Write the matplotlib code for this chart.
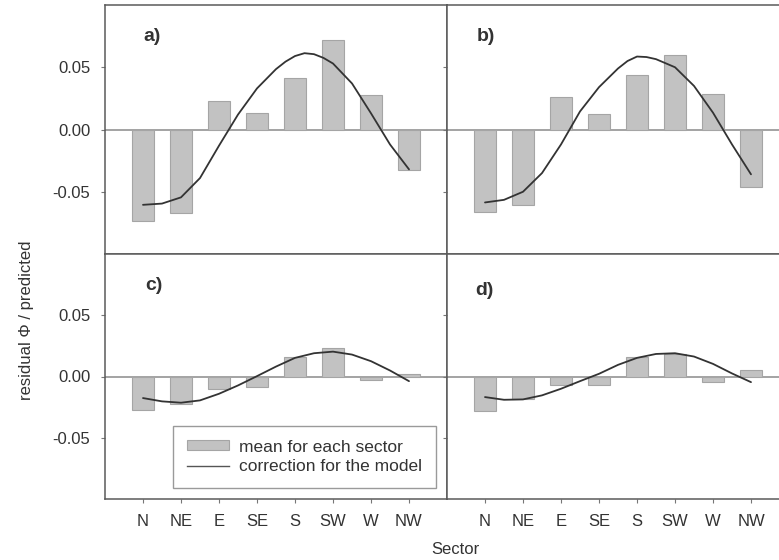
import matplotlib
matplotlib.use("Agg")
import matplotlib.pyplot as plt
from matplotlib.patches import Patch
from matplotlib.lines import Line2D

plt.rcParams['font.family'] = ['Liberation Sans', 'DejaVu Sans']

sectors = ["N", "NE", "E", "SE", "S", "SW", "W", "NW"]

bars_a = [-0.0731, -0.0672, 0.0228, 0.0134, 0.0411, 0.0720, 0.0280, -0.0322]
bars_b = [-0.0662, -0.0608, 0.0265, 0.0127, 0.0435, 0.0602, 0.0284, -0.0465]
bars_c = [-0.0272, -0.0223, -0.0100, -0.0087, 0.0160, 0.0234, -0.0027, 0.0022]
bars_d = [-0.0283, -0.0185, -0.0066, -0.0073, 0.0163, 0.0182, -0.0041, 0.0049]

curve_x_a = [0, 0.5, 1, 1.5, 2, 2.5, 3, 3.5, 3.75, 4, 4.25, 4.5, 4.75, 5, 5.5, 6, 6.5, 7]
curve_y_a = [-0.0605, -0.0595, -0.0545, -0.0390, -0.0130, 0.0120, 0.0330, 0.0485,
             0.0545, 0.0590, 0.0613, 0.0605, 0.0575, 0.0530, 0.0370, 0.0130, -0.0120, -0.0320]

curve_x_b = [0, 0.5, 1, 1.5, 2, 2.5, 3, 3.5, 3.75, 4, 4.25, 4.5, 5, 5.5, 6, 6.5, 7]
curve_y_b = [-0.0586, -0.0565, -0.0500, -0.0350, -0.0120, 0.0145, 0.0340, 0.0490,
             0.0550, 0.0586, 0.0582, 0.0565, 0.0500, 0.0350, 0.0135, -0.0120, -0.0360]

curve_x_c = [0, 0.5, 1, 1.5, 2, 2.5, 3, 3.5, 4, 4.5, 5, 5.5, 6, 6.5, 7]
curve_y_c = [-0.0176, -0.0203, -0.0214, -0.0195, -0.0141, -0.0073, 0.0003, 0.0081,
             0.0152, 0.0190, 0.0203, 0.0179, 0.0125, 0.0049, -0.0038]

curve_x_d = [0, 0.5, 1, 1.5, 2, 2.5, 3, 3.5, 4, 4.5, 5, 5.5, 6, 6.5, 7]
curve_y_d = [-0.0168, -0.0190, -0.0187, -0.0154, -0.0100, -0.0038, 0.0022, 0.0095,
             0.0152, 0.0184, 0.0190, 0.0163, 0.0103, 0.0025, -0.0046]

y_ticks = [-0.05, 0.0, 0.05]
y_tick_labels = ["-0.05", "0.00", "0.05"]
panel_labels = ["a)", "b)", "c)", "d)"]
legend_labels = ["mean for each sector", "correction for the model"]

W, H = 779, 560
fig = plt.figure(figsize=(W / 100, H / 100), dpi=100)

def frac(left, top, right, bottom):
    return [left / W, (H - bottom) / H, (right - left) / W, (bottom - top) / H]

boxes = [frac(105, 5, 447, 254), frac(447, 5, 789, 254),
         frac(105, 254, 447, 499), frac(447, 254, 789, 499)]
bars_all = [bars_a, bars_b, bars_c, bars_d]
curves = [(curve_x_a, curve_y_a), (curve_x_b, curve_y_b),
          (curve_x_c, curve_y_c), (curve_x_d, curve_y_d)]
label_pos = [(0.112, 0.873), (0.087, 0.873), (0.117, 0.873), (0.082, 0.850)]

bar_face = "#c2c2c2"
bar_edge = "#a5a5a5"
spine_col = "#5a5a5a"
text_col = "#333333"
x = list(range(len(sectors)))

axes = []
for i in range(4):
    ax = fig.add_axes(boxes[i])
    axes.append(ax)
    ax.axhline(0, color="#8a8a8a", lw=1.1, zorder=1)
    ax.bar(x, bars_all[i], width=0.6, color=bar_face, edgecolor=bar_edge,
           linewidth=0.8, zorder=2)
    cx, cy = curves[i]
    ax.plot(cx, cy, color="#333333", lw=1.3, zorder=3, solid_capstyle="round",
            solid_joinstyle="round")
    ax.set_xlim(-1, 8)
    ax.set_ylim(-0.1, 0.1)
    ax.set_xticks(x)
    ax.set_yticks(y_ticks)
    for s in ax.spines.values():
        s.set_color(spine_col)
        s.set_linewidth(1.1)
    ax.tick_params(direction="out", length=3, width=0.8, color="#777777",
                   labelsize=12, labelcolor=text_col)
    ax.tick_params(axis="y", pad=7.5)
    ax.tick_params(axis="x", pad=8)
    if i in (0, 2):
        ax.set_yticklabels(y_tick_labels)
    else:
        ax.set_yticklabels([])
    if i in (2, 3):
        ax.set_xticklabels(sectors)
    else:
        ax.set_xticklabels([])
    ax.text(label_pos[i][0], label_pos[i][1], panel_labels[i], transform=ax.transAxes,
            fontsize=14, fontweight="bold", color=text_col, va="center", ha="left")

handles = [Patch(facecolor=bar_face, edgecolor=bar_edge, linewidth=0.8),
           Line2D([0], [0], color="#555555", lw=1.0)]
leg = axes[2].legend(handles, legend_labels, loc="lower left",
                     bbox_to_anchor=(0.2, 0.0437, 0.767, 0.27), mode="expand",
                     fontsize=12.5, frameon=True, fancybox=False, framealpha=1,
                     edgecolor="#9a9a9a", borderpad=0.8, labelspacing=0.28,
                     handlelength=2.4, handleheight=0.5, handletextpad=0.6,
                     borderaxespad=0)
leg.get_frame().set_linewidth(1.0)
for t in leg.get_texts():
    t.set_color(text_col)

fig.text(27 / W, 1 - 320 / H, "residual \u03a6 / predicted", rotation=90,
         ha="center", va="center", fontsize=12, color=text_col)
fig.text(455 / W, 1 - 549 / H, "Sector", ha="center", va="center",
         fontsize=12, color=text_col)

fig.savefig("out.png", dpi=100)
